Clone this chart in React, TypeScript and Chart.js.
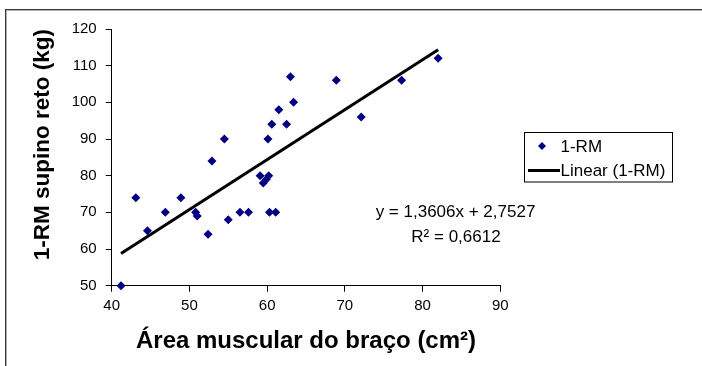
import React, { useEffect, useRef } from 'react';
import { Chart, registerables } from 'chart.js';

Chart.register(...registerables);

const FONT = '"Liberation Sans", Arial, Helvetica, sans-serif';

// Arm muscle area (cm²)
const armArea = [
  41.2, 43.1, 44.6, 46.9, 48.9, 50.8, 51.0, 52.4, 52.9, 54.5,
  55.0, 56.5, 57.6, 59.1, 59.5, 59.9, 60.2, 60.1, 60.3, 60.6,
  61.1, 61.5, 62.5, 63.0, 63.4, 68.9, 72.1, 77.3, 82.0,
];
// 1-RM bench press (kg)
const oneRM = [
  50, 74, 65, 70, 74, 70, 69, 64, 84, 90,
  68, 70, 70, 80, 78, 79, 80, 90, 70, 94,
  70, 98, 94, 107, 100, 106, 96, 106, 112,
];

const trendSlope = 1.3606;
const trendIntercept = 2.7527;
const equationLines = ['y = 1,3606x + 2,7527', 'R\u00B2 = 0,6612'];
const legendLabels = ['1-RM', 'Linear (1-RM)'];
const xTitle = '\u00C1rea muscular do bra\u00E7o (cm\u00B2)';
const yTitle = '1-RM supino reto (kg)';
const xRange = [40, 90];
const yRange = [50, 120];
const tickStep = 10;

const MARKER = '#000080';

const decorPlugin = {
  id: 'decor',
  afterDraw(chart: any) {
    const ctx = chart.ctx as CanvasRenderingContext2D;
    ctx.save();
    // outer frame (top + left)
    ctx.fillStyle = '#3a3a3a';
    ctx.fillRect(5, 9, 702 - 5, 1);
    ctx.fillRect(5, 9, 1, 366 - 9);
    ctx.fillStyle = '#b0b0b0';
    ctx.fillRect(6, 10, 702 - 6, 1);
    ctx.fillRect(6, 10, 1, 366 - 10);

    // legend box
    const lx = 524.5, ly = 132.5, lw = 148, lh = 49.5;
    ctx.strokeStyle = '#000';
    ctx.lineWidth = 1;
    ctx.strokeRect(lx, ly, lw, lh);
    ctx.font = `17px ${FONT}`;
    ctx.fillStyle = '#000';
    ctx.textBaseline = 'middle';
    ctx.textAlign = 'left';
    // diamond
    const dx = 542, dy = 146, r = 4;
    ctx.fillStyle = MARKER;
    ctx.beginPath();
    ctx.moveTo(dx, dy - r);
    ctx.lineTo(dx + r, dy);
    ctx.lineTo(dx, dy + r);
    ctx.lineTo(dx - r, dy);
    ctx.closePath();
    ctx.fill();
    ctx.fillStyle = '#000';
    ctx.fillText(legendLabels[0], 560.5, 147);
    ctx.strokeStyle = '#000';
    ctx.lineWidth = 3;
    ctx.beginPath();
    ctx.moveTo(528, 170.5);
    ctx.lineTo(560, 170.5);
    ctx.stroke();
    ctx.fillText(legendLabels[1], 560.5, 171);

    // equation
    ctx.textAlign = 'center';
    ctx.fillText(equationLines[0], 455.5, 212);
    ctx.fillText(equationLines[1], 456, 237);
    ctx.restore();
  },
};

export default function App() {
  const ref = useRef<HTMLCanvasElement | null>(null);

  useEffect(() => {
    document.body.style.margin = '0';
    const canvas = ref.current;
    if (!canvas) return;
    const xMin = Math.min(...armArea);
    const xMax = Math.max(...armArea);
    const chart = new Chart(canvas, {
      type: 'scatter',
      data: {
        datasets: [
          {
            label: legendLabels[0],
            data: armArea.map((x, i) => ({ x, y: oneRM[i] })),
            pointStyle: 'rectRot',
            pointRadius: 4.5,
            pointHoverRadius: 4.5,
            backgroundColor: MARKER,
            borderColor: MARKER,
            borderWidth: 0,
            showLine: false,
            clip: false,
            order: 1,
          } as any,
          {
            label: legendLabels[1],
            type: 'line',
            data: [
              { x: xMin, y: trendSlope * xMin + trendIntercept },
              { x: xMax, y: trendSlope * xMax + trendIntercept },
            ],
            borderColor: '#000',
            borderWidth: 3,
            pointRadius: 0,
            fill: false,
            order: 2,
          } as any,
        ],
      },
      options: {
        animation: false,
        responsive: false,
        events: [],
        layout: { padding: { left: 0, top: 29, right: 201.7, bottom: 0 } },
        plugins: {
          legend: { display: false },
          tooltip: { enabled: false },
          title: { display: false },
        },
        scales: {
          x: {
            type: 'linear',
            min: xRange[0],
            max: xRange[1],
            afterFit: (s: any) => { s.height = 80.3; },
            ticks: {
              stepSize: tickStep,
              color: '#000',
              font: { family: FONT, size: 15 },
              padding: 5,
              maxRotation: 0,
              autoSkip: false,
            },
            grid: { drawOnChartArea: false, drawTicks: true, tickLength: 6, color: '#000' },
            border: { display: true, color: '#000', width: 1 },
            title: {
              display: true,
              text: xTitle,
              color: '#000',
              font: { family: FONT, size: 24, weight: 'bold' },
              padding: { top: 0, bottom: 10 },
            },
          },
          y: {
            type: 'linear',
            min: yRange[0],
            max: yRange[1],
            afterFit: (s: any) => { s.width = 111.7; },
            ticks: {
              stepSize: tickStep,
              color: '#000',
              font: { family: FONT, size: 15 },
              padding: 9,
              autoSkip: false,
            },
            grid: { drawOnChartArea: false, drawTicks: true, tickLength: 6, color: '#000' },
            border: { display: true, color: '#000', width: 1 },
            title: {
              display: true,
              text: yTitle,
              align: 'end',
              color: '#000',
              font: { family: FONT, size: 22.5, weight: 'bold' },
              padding: { top: 29.5, bottom: 0 },
            },
          },
        },
      },
      plugins: [decorPlugin],
    });
    return () => chart.destroy();
  }, []);

  return (
    <div style={{ width: 702, height: 366, position: 'relative', background: '#fff' }}>
      <canvas ref={ref} width={702} height={366} style={{ display: 'block' }} />
    </div>
  );
}
